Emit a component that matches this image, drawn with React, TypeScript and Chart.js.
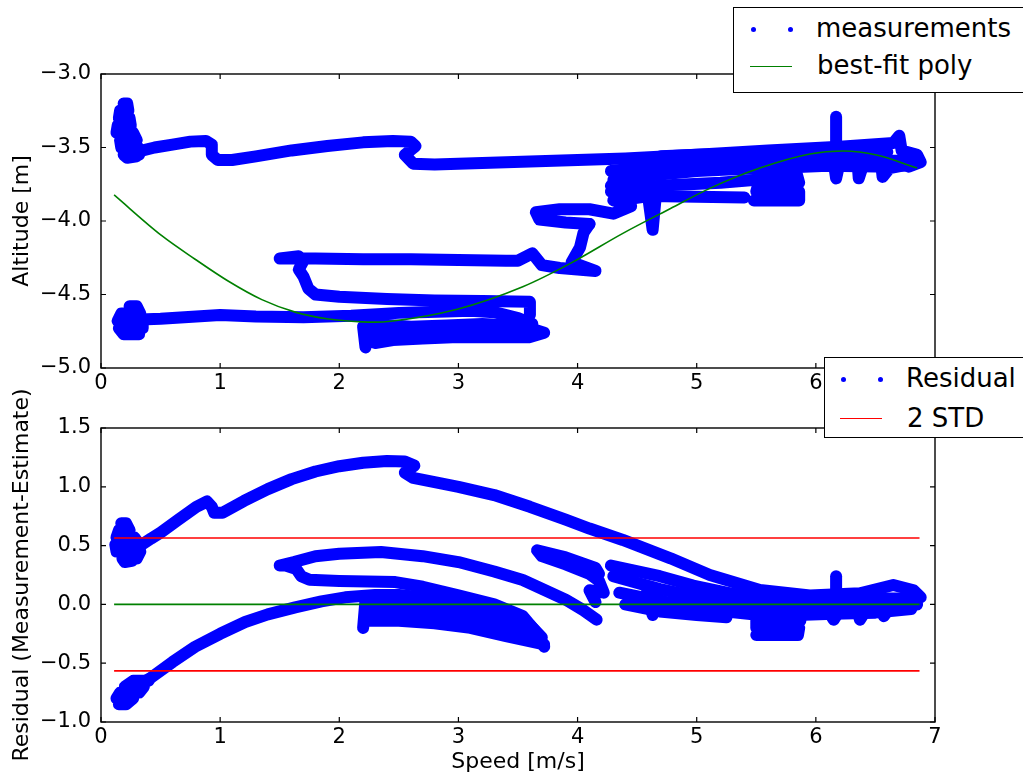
import React, { useEffect, useRef } from 'react';
import { Chart, registerables } from 'chart.js';

Chart.register(...registerables);

const FONT = '"DejaVu Sans", "Liberation Sans", sans-serif';
const BLUE = '#0000ff';
const GREEN = '#008000';
const RED = '#ff0000';

type Pt = [number, number];

// ---- tick labels ----
const speedTicks = [0, 1, 2, 3, 4, 5, 6, 7];
const altitudeTicks = [-5.0, -4.5, -4.0, -3.5, -3.0];
const residualTicks = [-1.0, -0.5, 0.0, 0.5, 1.0, 1.5];

// ---- best-fit polynomial ----
const polySpeed = [0.11, 0.51, 0.79, 1.07, 1.35, 1.63, 1.91, 2.19, 2.3, 2.43, 2.99, 3.54, 3.94, 4.38, 4.78, 5.11, 5.53, 5.95, 6.23, 6.51, 6.85];
const polyAltitude = [-3.823, -4.1, -4.26, -4.41, -4.535, -4.62, -4.667, -4.686, -4.688, -4.682, -4.6, -4.447, -4.288, -4.084, -3.915, -3.778, -3.64, -3.544, -3.524, -3.551, -3.64];

// ---- measurements: altitude traces ----
const altUpperBlob: Pt[] = [
  [0.19, -3.2], [0.22, -3.2], [0.23, -3.25], [0.16, -3.25], [0.15, -3.3], [0.24, -3.3], [0.25, -3.35], [0.14, -3.35],
  [0.13, -3.4], [0.27, -3.4], [0.3, -3.45], [0.16, -3.45], [0.17, -3.5], [0.31, -3.5], [0.32, -3.55], [0.19, -3.55],
  [0.22, -3.57], [0.3, -3.56],
];
const altUpperTrack: Pt[] = [
  [0.3, -3.53], [0.45, -3.5], [0.6, -3.48], [0.75, -3.46], [0.88, -3.455], [0.93, -3.48], [0.93, -3.55], [0.98, -3.585],
  [1.1, -3.585], [1.3, -3.56], [1.6, -3.52], [1.9, -3.49], [2.2, -3.465], [2.45, -3.455], [2.6, -3.46], [2.64, -3.49],
  [2.55, -3.55], [2.62, -3.61], [2.8, -3.615], [3.2, -3.605], [3.8, -3.59], [4.4, -3.575], [5.0, -3.55], [5.6, -3.52],
  [6.2, -3.495], [6.65, -3.47], [6.7, -3.42], [6.72, -3.52], [6.85, -3.55], [6.88, -3.6], [6.78, -3.63], [6.7, -3.6],
];
const altSpike: Pt[] = [[6.17, -3.47], [6.17, -3.29]];
const altMidLoop39: Pt[] = [
  [4.1, -4.02], [3.9, -4.01], [3.68, -3.99], [3.65, -3.94], [3.85, -3.92], [4.1, -3.92], [4.3, -3.95], [4.45, -3.9],
  [4.3, -3.86], [4.4, -3.8], [4.28, -3.76],
];
const altRightLine1: Pt[] = [[4.28, -3.66], [4.6, -3.63], [5.0, -3.61], [5.4, -3.59], [5.8, -3.58], [6.2, -3.58], [6.6, -3.59], [6.85, -3.59]];
const altRightLine2: Pt[] = [[4.3, -3.72], [4.6, -3.69], [5.0, -3.66], [5.4, -3.645], [5.8, -3.635], [6.1, -3.625], [6.5, -3.63], [6.8, -3.62]];
const altRightLine3: Pt[] = [[4.28, -3.8], [4.5, -3.77], [4.8, -3.755], [5.2, -3.74], [5.5, -3.72]];
const altRightLine4: Pt[] = [[4.35, -3.86], [4.6, -3.83], [5.0, -3.835], [5.4, -3.84]];
const altRightLine5: Pt[] = [[4.7, -3.56], [5.0, -3.55], [5.4, -3.54], [5.8, -3.53], [6.2, -3.525], [6.6, -3.53]];
const altRightBlob: Pt[] = [
  [5.48, -3.86], [5.86, -3.86], [5.86, -3.8], [5.5, -3.8], [5.52, -3.74], [5.86, -3.74], [5.84, -3.68], [5.55, -3.68],
];
const altRightBumps: Pt[] = [
  [6.0, -3.62], [6.15, -3.6], [6.17, -3.71], [6.2, -3.6], [6.35, -3.6], [6.36, -3.71], [6.4, -3.61], [6.55, -3.62],
  [6.56, -3.7], [6.62, -3.64], [6.75, -3.62], [6.85, -3.58],
];
const altSpur: Pt[] = [[4.58, -3.76], [4.63, -4.06], [4.66, -3.8]];
const altMidLoop: Pt[] = [
  [3.6, -4.64], [3.6, -4.55], [3.2, -4.545], [2.8, -4.54], [2.4, -4.53], [2.0, -4.515], [1.8, -4.5], [1.74, -4.46],
  [1.7, -4.38], [1.66, -4.33], [1.7, -4.27], [1.66, -4.24], [1.5, -4.255], [1.8, -4.255], [2.2, -4.26], [2.6, -4.26],
  [3.0, -4.265], [3.4, -4.27], [3.5, -4.27], [3.62, -4.22], [3.7, -4.3], [3.85, -4.32], [4.15, -4.34], [3.95, -4.28],
  [4.02, -4.18], [4.05, -4.08], [4.1, -4.02],
];
const altLowerBlob: Pt[] = [
  [0.24, -4.58], [0.3, -4.58], [0.33, -4.63], [0.17, -4.63], [0.14, -4.68], [0.35, -4.68], [0.35, -4.73], [0.15, -4.73],
  [0.19, -4.77], [0.32, -4.77],
];
const altLowerTrack: Pt[] = [
  [0.33, -4.67], [0.5, -4.665], [0.7, -4.655], [1.0, -4.64], [1.3, -4.65], [1.7, -4.655], [2.1, -4.645], [2.5, -4.625],
  [2.9, -4.615], [3.1, -4.61], [3.3, -4.62], [3.5, -4.66], [3.62, -4.7],
];
const altLowerCluster: Pt[] = [
  [2.22, -4.86], [2.2, -4.72], [2.3, -4.7], [2.6, -4.72], [2.9, -4.71], [3.2, -4.7], [3.45, -4.71], [3.6, -4.73],
  [3.72, -4.76], [3.6, -4.79], [3.3, -4.79], [3.0, -4.79], [2.7, -4.8], [2.45, -4.81], [2.3, -4.83], [2.25, -4.77],
  [2.5, -4.76], [2.8, -4.76], [3.1, -4.755], [3.4, -4.75], [3.55, -4.76],
];

// ---- residual traces ----
const resUpperBlob: Pt[] = [
  [0.17, 0.69], [0.21, 0.69], [0.24, 0.63], [0.15, 0.63], [0.13, 0.57], [0.28, 0.57], [0.32, 0.51], [0.12, 0.51],
  [0.13, 0.45], [0.33, 0.45], [0.3, 0.39], [0.18, 0.39], [0.2, 0.36], [0.26, 0.37],
];
const resUpper: Pt[] = [
  [0.3, 0.48], [0.42, 0.56], [0.5, 0.61], [0.65, 0.72], [0.8, 0.83], [0.89, 0.875], [0.93, 0.83], [0.95, 0.78],
  [1.02, 0.78], [1.2, 0.88], [1.4, 0.98], [1.6, 1.065], [1.8, 1.13], [2.0, 1.175], [2.2, 1.205], [2.4, 1.22],
  [2.55, 1.215], [2.63, 1.18], [2.55, 1.12], [2.62, 1.075], [2.8, 1.04], [3.0, 1.0], [3.3, 0.93], [3.6, 0.83],
  [3.9, 0.72], [4.1, 0.645], [4.38, 0.548], [4.78, 0.392], [5.11, 0.25], [5.53, 0.122], [5.95, 0.075], [6.37, 0.094],
  [6.65, 0.165], [6.82, 0.12], [6.88, 0.06],
];
const resMiddle: Pt[] = [
  [3.72, -0.36], [3.64, -0.22], [3.54, -0.1], [3.3, 0.0], [2.99, 0.08], [2.7, 0.15], [2.47, 0.19], [2.0, 0.2],
  [1.75, 0.21], [1.68, 0.24], [1.64, 0.3], [1.55, 0.33], [1.5, 0.33], [1.62, 0.36], [1.8, 0.41], [2.0, 0.43],
  [2.35, 0.445], [2.7, 0.41], [3.0, 0.36], [3.3, 0.28], [3.54, 0.207], [3.75, 0.11], [3.9, 0.04], [4.05, -0.05], [4.16, -0.13],
];
const resLowerBlob: Pt[] = [
  [0.15, -0.85], [0.21, -0.85], [0.27, -0.8], [0.13, -0.8], [0.16, -0.75], [0.32, -0.75], [0.36, -0.7], [0.2, -0.7],
  [0.27, -0.65], [0.4, -0.65],
];
const resLower: Pt[] = [
  [0.36, -0.66], [0.41, -0.63], [0.6, -0.49], [0.79, -0.36], [1.0, -0.25], [1.21, -0.15], [1.4, -0.085], [1.63, -0.025],
  [1.85, 0.025], [2.05, 0.06], [2.3, 0.08], [2.5, 0.08], [2.75, 0.055], [2.99, 0.023], [3.2, -0.04], [3.4, -0.09],
  [3.6, -0.175], [3.7, -0.28],
];
const resCluster1: Pt[] = [[2.22, 0.04], [2.2, -0.2], [2.22, 0.03], [2.5, 0.0], [2.8, -0.02], [3.1, -0.05], [3.4, -0.12], [3.6, -0.2]];
const resCluster2: Pt[] = [[2.22, -0.06], [2.5, -0.07], [2.8, -0.09], [3.1, -0.13], [3.4, -0.2], [3.65, -0.28]];
const resCluster3: Pt[] = [[2.22, -0.14], [2.5, -0.14], [2.8, -0.16], [3.1, -0.2], [3.4, -0.27], [3.72, -0.34]];
const resRightLoop: Pt[] = [
  [4.18, 0.26], [4.15, 0.31], [3.9, 0.4], [3.66, 0.46], [3.7, 0.41], [3.9, 0.34], [4.1, 0.26], [4.18, 0.2],
  [4.22, 0.1], [4.1, 0.12], [4.15, 0.02],
];
const resRightA: Pt[] = [[4.28, 0.33], [4.69, 0.24], [4.97, 0.16], [5.25, 0.1], [5.53, 0.05], [5.85, 0.04], [6.15, 0.04], [6.5, 0.05], [6.85, 0.05]];
const resRightB: Pt[] = [[4.3, 0.24], [4.69, 0.13], [4.97, 0.07], [5.25, 0.02], [5.53, -0.02], [5.85, -0.02], [6.15, -0.02], [6.5, -0.02], [6.85, 0.0]];
const resRightC: Pt[] = [[4.35, 0.1], [4.69, 0.03], [4.97, -0.02], [5.25, -0.06], [5.53, -0.09], [5.85, -0.09], [6.15, -0.08], [6.5, -0.07], [6.8, -0.04]];
const resRightD: Pt[] = [[4.4, 0.0], [4.69, -0.06], [5.0, -0.09], [5.25, -0.11]];
const resRightBlob: Pt[] = [[5.5, -0.26], [5.85, -0.26], [5.86, -0.2], [5.5, -0.2], [5.5, -0.14], [5.87, -0.14], [5.87, -0.08], [5.5, -0.08]];
const resRightBumps: Pt[] = [
  [6.1, -0.05], [6.15, -0.13], [6.2, -0.05], [6.35, -0.05], [6.37, -0.13], [6.42, -0.05], [6.55, -0.04], [6.57, -0.1],
  [6.62, -0.03], [6.75, 0.05],
];
const resSpur: Pt[] = [[4.58, 0.1], [4.63, -0.09], [4.67, 0.08]];
const resSpike: Pt[] = [[6.17, 0.07], [6.17, 0.24]];

// ---- reference lines ----
const lineSpeedRange = [0.11, 6.87];
const zeroLevel = 0.0;
const stdLevel = 0.565;

const toXY = (pts: Pt[]) => pts.map(([x, y]) => ({ x, y }));

const blueStyle: any = {
  borderColor: BLUE,
  backgroundColor: BLUE,
  borderWidth: 12,
  pointRadius: 0,
  showLine: true,
  tension: 0,
  borderJoinStyle: 'round',
  borderCapStyle: 'round',
};

const framePlugin = {
  id: 'mplFrame',
  afterDatasetsDraw(chart: any) {
    const { ctx, chartArea, scales } = chart;
    const { left, right, top, bottom } = chartArea;
    ctx.save();
    ctx.strokeStyle = '#000';
    ctx.lineWidth = 1.4;
    ctx.strokeRect(left, top, right - left, bottom - top);
    const L = 5;
    ctx.beginPath();
    for (const t of scales.x.ticks) {
      const px = scales.x.getPixelForValue(t.value);
      ctx.moveTo(px, bottom);
      ctx.lineTo(px, bottom - L);
      ctx.moveTo(px, top);
      ctx.lineTo(px, top + L);
    }
    for (const t of scales.y.ticks) {
      const py = scales.y.getPixelForValue(t.value);
      ctx.moveTo(left, py);
      ctx.lineTo(left + L, py);
      ctx.moveTo(right, py);
      ctx.lineTo(right - L, py);
    }
    ctx.lineWidth = 1.2;
    ctx.stroke();
    ctx.restore();
  },
};

function axisX(title: string | null, height: number): any {
  return {
    type: 'linear',
    min: 0,
    max: 7,
    afterBuildTicks: (s: any) => {
      s.ticks = speedTicks.map((v) => ({ value: v }));
    },
    afterFit: (s: any) => {
      s.height = height;
    },
    grid: { display: false, drawTicks: false },
    border: { display: false },
    ticks: {
      autoSkip: false,
      maxRotation: 0,
      padding: 3,
      color: '#000',
      font: { family: FONT, size: 21, lineHeight: 1.2 },
      callback: (v: any) => String(v),
    },
    title: title
      ? { display: true, text: title, color: '#000', font: { family: FONT, size: 22, lineHeight: 1.2 }, padding: { top: 0, bottom: 3 } }
      : { display: false },
  };
}

function axisY(min: number, max: number, tickVals: number[], title: string): any {
  return {
    type: 'linear',
    min,
    max,
    afterBuildTicks: (s: any) => {
      s.ticks = tickVals.map((v) => ({ value: v }));
    },
    afterFit: (s: any) => {
      s.width = 101;
    },
    grid: { display: false, drawTicks: false },
    border: { display: false },
    ticks: {
      autoSkip: false,
      padding: 10,
      color: '#000',
      font: { family: FONT, size: 21, lineHeight: 1.2 },
      callback: (v: any) => Number(v).toFixed(1).replace('-', '\u2212'),
    },
    title: { display: true, text: title, color: '#000', font: { family: FONT, size: 22, lineHeight: 1.2 }, padding: { top: 9, bottom: 0 } },
  };
}

const blue = (label: string, pts: Pt[]) => ({ label, data: toXY(pts), ...blueStyle });

export default function App() {
  const topRef = useRef<HTMLCanvasElement>(null);
  const botRef = useRef<HTMLCanvasElement>(null);

  useEffect(() => {
    const polyData = polySpeed.map((x, i) => ({ x, y: polyAltitude[i] }));
    const altTraces = [
      altUpperBlob, altUpperTrack, altSpike, altMidLoop39, altRightLine1, altRightLine2, altRightLine3, altRightLine4,
      altRightLine5, altRightBlob, altRightBumps, altSpur, altMidLoop, altLowerBlob, altLowerTrack, altLowerCluster,
    ];
    const top = new Chart(topRef.current as HTMLCanvasElement, {
      type: 'scatter',
      data: {
        datasets: [
          { label: 'best-fit poly', data: polyData, borderColor: GREEN, backgroundColor: GREEN, borderWidth: 1.6, pointRadius: 0, showLine: true, cubicInterpolationMode: 'monotone' } as any,
          ...altTraces.map((t) => blue('measurements', t)),
        ],
      },
      options: {
        responsive: false,
        animation: false,
        events: [],
        layout: { padding: { left: 0, right: 88, top: 74, bottom: 0 } },
        plugins: { legend: { display: false }, tooltip: { enabled: false } },
        scales: {
          x: axisX(null, 32),
          y: axisY(-5, -3, altitudeTicks, 'Altitude [m]'),
        },
      } as any,
      plugins: [framePlugin],
    });

    const hLine = (level: number) => lineSpeedRange.map((x) => ({ x, y: level }));
    const resTraces = [
      resUpperBlob, resUpper, resMiddle, resLowerBlob, resLower, resCluster1, resCluster2, resCluster3, resRightLoop,
      resRightA, resRightB, resRightC, resRightD, resRightBlob, resRightBumps, resSpur, resSpike,
    ];
    const bot = new Chart(botRef.current as HTMLCanvasElement, {
      type: 'scatter',
      data: {
        datasets: [
          { label: '2 STD', data: hLine(stdLevel), borderColor: RED, borderWidth: 1.6, pointRadius: 0, showLine: true } as any,
          { label: '2 STD', data: hLine(-stdLevel), borderColor: RED, borderWidth: 1.6, pointRadius: 0, showLine: true } as any,
          { label: 'zero', data: hLine(zeroLevel), borderColor: GREEN, borderWidth: 1.6, pointRadius: 0, showLine: true } as any,
          ...resTraces.map((t) => blue('Residual', t)),
        ],
      },
      options: {
        responsive: false,
        animation: false,
        events: [],
        layout: { padding: { left: 0, right: 88, top: 58, bottom: 0 } },
        plugins: { legend: { display: false }, tooltip: { enabled: false } },
        scales: {
          x: axisX('Speed [m/s]', 56),
          y: axisY(-1, 1.5, residualTicks, 'Residual (Measurement-Estimate)'),
        },
      } as any,
      plugins: [framePlugin],
    });

    return () => {
      top.destroy();
      bot.destroy();
    };
  }, []);

  const text = (left: number, baseline: number, s: string) => (
    <span
      style={{
        position: 'absolute',
        left,
        top: baseline - 24,
        fontFamily: FONT,
        fontSize: 26,
        lineHeight: '30px',
        color: '#000',
        whiteSpace: 'nowrap',
      }}
    >
      {s}
    </span>
  );
  const dot = (cx: number, cy: number) => (
    <div style={{ position: 'absolute', left: cx - 2.5, top: cy - 2.5, width: 5, height: 5, borderRadius: '50%', background: BLUE }} />
  );
  const seg = (x1: number, x2: number, y: number, color: string) => (
    <div style={{ position: 'absolute', left: x1, top: y - 0.8, width: x2 - x1, height: 1.6, background: color }} />
  );
  const box = (left: number, top: number, bottom: number) => (
    <div
      style={{
        position: 'absolute',
        left,
        top,
        width: 1060 - left,
        height: bottom - top,
        border: '1.5px solid #000',
        background: '#fff',
        boxSizing: 'border-box',
      }}
    />
  );

  return (
    <div style={{ position: 'absolute', left: 0, top: 0, width: 1023, height: 778, overflow: 'hidden', background: '#fff' }}>
      <canvas ref={topRef} width={1023} height={400} style={{ position: 'absolute', left: 0, top: 0 }} />
      <canvas ref={botRef} width={1023} height={408} style={{ position: 'absolute', left: 0, top: 370 }} />
      {box(733, 7, 93)}
      {dot(753, 29)}
      {dot(790, 29)}
      {text(816, 36.7, 'measurements')}
      {seg(750, 792, 66.7, GREEN)}
      {text(817, 73.5, 'best-fit poly')}
      {box(824, 357, 438)}
      {dot(843, 379)}
      {dot(880, 379)}
      {text(906, 386.7, 'Residual')}
      {seg(840, 882, 418.3, RED)}
      {text(907, 427.3, '2 STD')}
    </div>
  );
}
